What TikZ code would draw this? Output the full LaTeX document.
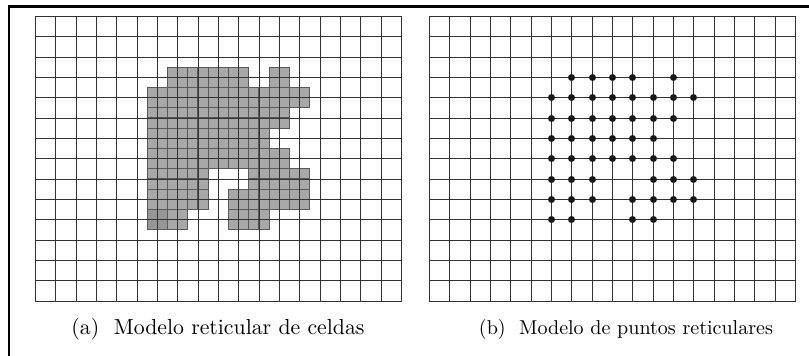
\documentclass[tikz,border=0pt]{standalone}
\usepackage{fontspec}
\setmainfont{lmroman10-regular.otf}
\usepackage{tikz}
\usepackage{graphicx}
\begin{document}
\begin{tikzpicture}[x=1pt,y=-1pt,
  gridline/.style={line width=1.6pt, black!80},
  halfcell/.style={fill=gray!68, draw=gray!70!black, line width=0.6pt},
  darkcell/.style={fill=gray!82, draw=gray!70!black, line width=0.6pt},
  dotmark/.style={circle, fill=black!90, inner sep=0pt, minimum size=7pt},
  frameline/.style={line width=2.2pt, black},
  captext/.style={anchor=base, inner sep=0pt}]
\useasboundingbox (0,0) rectangle (809,356);
\def\cw{20.3333}
\def\hw{10.16667}
% outer frame (open at right and bottom)
\draw[frameline] (9,357) -- (9,6.5) -- (810,6.5);
% shaded cells of model (a)
\foreach \i/\j in {7/3,8/3,9/3,10/3,12/3,
  6/4,7/4,8/4,9/4,10/4,11/4,12/4,13/4,
  6/5,7/5,8/5,9/5,10/5,11/5,12/5,
  6/6,7/6,8/6,9/6,10/6,11/6,
  6/7,7/7,8/7,9/7,10/7,11/7,12/7,
  6/8,7/8,8/8,11/8,12/8,13/8,
  6/9,7/9,8/9,10/9,11/9,12/9,13/9,
  7/10,10/10,11/10}{
  \foreach \a/\b in {-0.5/-0.5,0/-0.5,-0.5/0,0/0}{
    \filldraw[halfcell] ({35+(\i+\a)*\cw},{16+(\j+\b)*\cw}) rectangle +(\hw,\hw);
  }
}
\foreach \a/\b in {-0.5/-0.5,0/-0.5,-0.5/0,0/0}{
  \filldraw[darkcell] ({35+(6+\a)*\cw},{16+(10+\b)*\cw}) rectangle +(\hw,\hw);
}
% grids (a) and (b), lines snapped to pixel centres
\foreach \ox in {35,429}{
  \foreach \k in {0,...,18}{
    \pgfmathsetmacro{\gx}{round(\ox+\k*\cw)+0.5}
    \draw[gridline] (\gx,16) -- (\gx,301.5);
  }
  \foreach \k in {0,...,14}{
    \pgfmathsetmacro{\gy}{round(16+\k*\cw)+0.5}
    \draw[gridline] (\ox,\gy) -- ({\ox+366.5},\gy);
  }
}
% lattice points (b)
\foreach \i/\j in {7/3,8/3,9/3,10/3,12/3,
  6/4,7/4,8/4,9/4,10/4,11/4,12/4,13/4,
  6/5,7/5,8/5,9/5,10/5,11/5,12/5,
  6/6,7/6,8/6,9/6,10/6,11/6,
  6/7,7/7,8/7,9/7,10/7,11/7,12/7,
  6/8,7/8,8/8,11/8,12/8,13/8,
  6/9,7/9,8/9,10/9,11/9,12/9,13/9,
  6/10,7/10,10/10,11/10}{
  \node[dotmark] (p\i-\j) at ({round(429+\i*\cw)+0.5},{round(16+\j*\cw)+0.5}) {};
}
% captions, scaled to the widths that the reference shows
\node[captext] (capta) at (218,334) {\resizebox{293pt}{!}{(a)\ \ Modelo reticular de celdas}};
\node[captext] (captb) at (626,334) {\resizebox{294pt}{!}{(b)\ \ Modelo de puntos reticulares}};
\end{tikzpicture}
\end{document}
